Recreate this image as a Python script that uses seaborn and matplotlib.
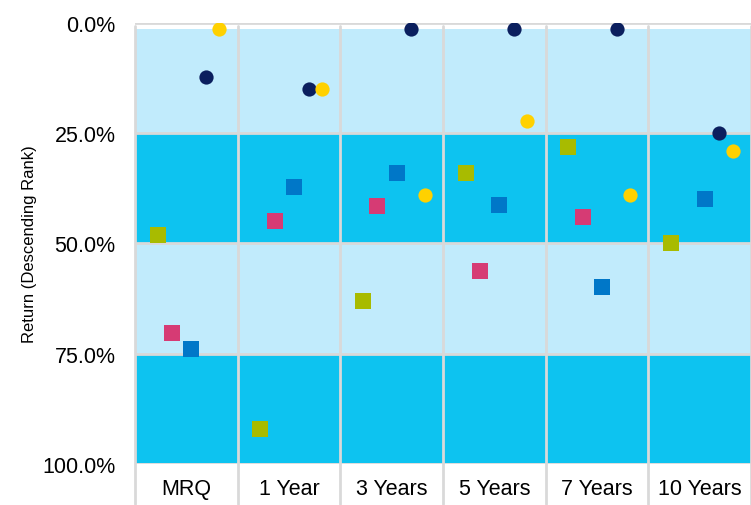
import numpy as np
import pandas as pd
import seaborn as sns
import matplotlib.pyplot as plt

periods = ["MRQ", "1 Year", "3 Years", "5 Years", "7 Years", "10 Years"]
series = ["A", "B", "C", "D", "E"]
green = [48.1, 92.1, 63.1, 34.1, 28.2, 49.9]
pink = [70.3, 45.0, 41.5, 56.3, 44.1, np.nan]
blue = [74.0, 37.3, 34.1, 41.3, 59.9, 40.0]
navy = [12.3, 15.1, 1.5, 1.5, 1.5, 25.0]
yellow = [1.5, 15.1, 39.1, 22.3, 39.1, 29.1]

values = [green, pink, blue, navy, yellow]
offsets = [-0.28, -0.14, 0.05, 0.19, 0.32]
colors = ["#a8bb00", "#d63b74", "#0077c8", "#0b1f5e", "#ffd100"]
markers = ["s", "s", "s", "o", "o"]

rows = []
for s, v, off in zip(series, values, offsets):
    for i, val in enumerate(v):
        rows.append({"series": s, "x": i + off, "rank": val})
df = pd.DataFrame(rows).dropna()

sns.set_style("white")
plt.rcParams["font.family"] = ["Liberation Sans", "DejaVu Sans"]
fig = plt.figure(figsize=(7.51, 5.06), dpi=100)
ax = fig.add_axes([135 / 751, 1 - 465 / 506, 1 - 135 / 751, (465 - 23.5) / 506])

n = len(periods)
band_light, band_dark = "#c1ebfc", "#0dc3f0"
for lo, hi, c in [(1.5, 25, band_light), (25, 50, band_dark), (50, 75, band_light), (75, 99.7, band_dark)]:
    ax.axhspan(lo, hi, xmin=0, xmax=1, color=c, zorder=0, lw=0)

for y in [0, 25, 50, 75, 100]:
    ax.axhline(y, color="#d9d9d9", lw=2, zorder=1)
for i in range(n + 1):
    ax.plot([i - 0.5, i - 0.5], [0.7, 109], color="#d9d9d9", lw=2, zorder=1, clip_on=False)

for s, c, m in zip(series, colors, markers):
    sub = df[df["series"] == s]
    sns.scatterplot(data=sub, x="x", y="rank", ax=ax, color=c, marker=m,
                    s=120 if m == "s" else 105, linewidth=0, zorder=3, legend=False)

ax.set_xlim(-0.5, n - 0.5)
ax.set_ylim(100, 0)
ax.set_xticks(range(n))
ax.set_xticklabels(periods, fontsize=15.5, color="black")
ax.set_yticks([0, 25, 50, 75, 100])
ax.set_yticklabels([f"{t:.1f}%" for t in [0, 25, 50, 75, 100]], fontsize=15.5, color="black")
ax.tick_params(axis="x", length=0, pad=10)
ax.tick_params(axis="y", length=13, width=2, color="#d9d9d9", pad=1)
ax.set_xlabel("")
ax.set_ylabel("Return (Descending Rank)", fontsize=12, labelpad=4, color="black")
for sp in ax.spines.values():
    sp.set_visible(False)

fig.savefig("out.png", dpi=100)
